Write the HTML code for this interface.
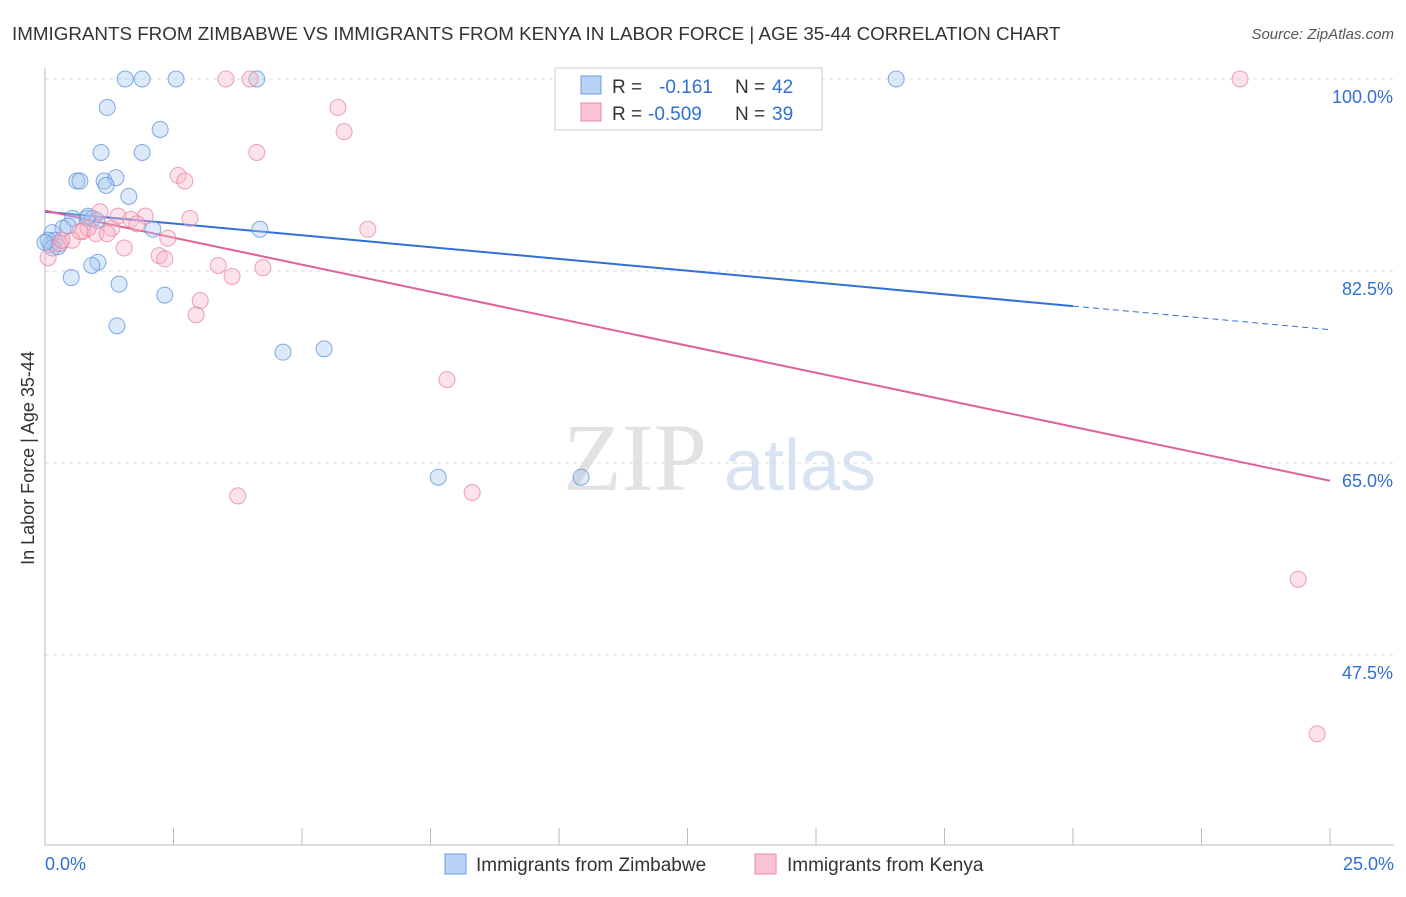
<!DOCTYPE html>
<html><head><meta charset="utf-8"><style>
body{margin:0;background:#fff;font-family:"Liberation Sans",sans-serif;}
</style></head><body>
<svg id="c" width="1406" height="892" xmlns="http://www.w3.org/2000/svg">
<text x="12" y="40" font-size="18.8" fill="#333">IMMIGRANTS FROM ZIMBABWE VS IMMIGRANTS FROM KENYA IN LABOR FORCE | AGE 35-44 CORRELATION CHART</text>
<text x="1394" y="39" font-size="15" fill="#555" font-style="italic" text-anchor="end">Source: ZipAtlas.com</text>
<text x="34" y="458" font-size="18" fill="#333" text-anchor="middle" transform="rotate(-90 34 458)">In Labor Force | Age 35-44</text>
<g><text x="635" y="490" font-size="96" fill="#ccc" font-family="Liberation Serif,serif" text-anchor="middle" opacity="0.55">ZIP</text><text x="800" y="490" font-size="72" fill="#b8cdea" text-anchor="middle" opacity="0.55">atlas</text></g>
<g id="grid"></g><g id="axes"></g><g id="trend"></g><g id="pts"></g>
<g>
<rect x="555" y="68" width="267" height="62" fill="#fff" stroke="#ccc"/>
<rect x="581" y="76" width="20" height="18" fill="#b8d3f5" stroke="#6a9be0"/>
<rect x="581" y="103" width="20" height="18" fill="#f9c3d3" stroke="#e88aa8"/>
<text y="93" font-size="19" fill="#333"><tspan x="612">R =</tspan><tspan x="659" fill="#2f6fd6">-0.161</tspan><tspan x="735">N =</tspan><tspan x="772" fill="#2f6fd6">42</tspan></text>
<text y="120" font-size="19" fill="#333"><tspan x="612">R =</tspan><tspan x="648" fill="#2f6fd6">-0.509</tspan><tspan x="735">N =</tspan><tspan x="772" fill="#2f6fd6">39</tspan></text>
</g>
<g>
<rect x="445" y="854" width="21" height="20" fill="#b8d3f5" stroke="#6a9be0"/>
<text x="476" y="871" font-size="19" fill="#333">Immigrants from Zimbabwe</text>
<rect x="755" y="854" width="21" height="20" fill="#f9c3d3" stroke="#e88aa8"/>
<text x="787" y="871" font-size="19" fill="#333">Immigrants from Kenya</text>
</g>
</svg>
<script>
const xTicks=[0,25];
const yTicks=[100,82.5,65,47.5];
const blueX=[1.56,1.89,2.55,4.12,16.56,1.21,2.24,1.09,1.89,0.62,0.68,1.15,1.38,1.19,1.63,0.54,0.82,0.93,1.01,0.35,0.45,2.10,4.18,0.14,0.19,0.29,0.10,0.25,1.03,0.91,0.51,1.44,2.33,1.40,4.63,5.43,7.65,10.43,0.06,0.14,0.0,0.84];
const blueY=[100,100,100,100,100,97.4,95.4,93.3,93.3,90.7,90.7,90.7,91.0,90.3,89.3,87.3,87.3,87.3,87.1,86.4,86.6,86.3,86.3,86.0,85.3,85.0,84.9,84.7,83.3,83.0,81.9,81.3,80.3,77.5,75.1,75.4,63.7,63.7,85.3,84.6,85.1,87.5];
const pinkX=[3.52,3.99,23.25,5.70,5.82,4.12,2.59,2.72,1.07,1.42,1.95,2.82,1.67,1.30,1.79,6.28,0.74,0.99,1.21,2.39,0.53,0.29,1.54,2.22,2.33,3.37,4.24,3.64,3.02,2.94,7.82,3.75,8.31,24.38,24.75,0.06,0.33,0.84,0.68];
const pinkY=[100,100,100,97.4,95.2,93.3,91.2,90.7,87.9,87.5,87.5,87.3,87.2,86.4,86.8,86.3,86.1,85.9,85.9,85.5,85.3,85.0,84.6,83.9,83.6,83.0,82.8,82.0,79.8,78.5,72.6,62.0,62.3,54.4,40.3,83.7,85.3,86.4,86.1];
const blueTrend=[87.9,-0.43];
const pinkTrend=[88.0,-0.985];
const X=v=>45+v*51.4, Y=v=>79+(100-v)*10.97;
const NS="http://www.w3.org/2000/svg";
function mk(p,t,a){const e=document.createElementNS(NS,t);for(const k in a)e.setAttribute(k,a[k]);document.getElementById(p).appendChild(e);return e;}
yTicks.forEach(t=>{
 const l=mk('grid','line',{x1:45,x2:1394,y1:Y(t),y2:Y(t),stroke:'#ddd','stroke-dasharray':'4,4'});
 
 
 const tx=mk('grid','text',{x:1393,y:Y(t)+24,'font-size':18,fill:'#2f6fd6','text-anchor':'end'});tx.textContent=t.toFixed(1)+'%';
 
 
});
const ax=mk('axes','path',{d:'M45,68V845H1394',fill:'none',stroke:'#bbb'});


for(let i=0;i<=10;i++){const x=45+i*128.5;const tk=mk('axes','line',{x1:x,x2:x,y1:828,y2:845,stroke:'#bbb'});
 
 }
xTicks.forEach((t,i)=>{const tx=mk('axes','text',{x:i?1394:45,y:870,'font-size':18,fill:'#2f6fd6','text-anchor':i?'end':'start'});tx.textContent=t.toFixed(1)+'%';
 
 });
function pts(xs,ys,f,s,n){xs.forEach((x,i)=>{const c=mk('pts','circle',{cx:X(x),cy:Y(ys[i]),r:8,fill:f,'fill-opacity':0.4,stroke:s,'stroke-opacity':0.75});
 
 });}
pts(blueX,blueY,'#a8c8f0','#5a90dc','zimbabwe-point');
pts(pinkX,pinkY,'#f7b8cb','#e8829f','kenya-point');
const bl=mk('trend','line',{x1:X(0),y1:Y(blueTrend[0]),x2:X(20),y2:Y(blueTrend[0]+blueTrend[1]*20),stroke:'#2f6fd6','stroke-width':2});


const bd=mk('trend','line',{x1:X(20),y1:Y(blueTrend[0]+blueTrend[1]*20),x2:X(25),y2:Y(blueTrend[0]+blueTrend[1]*25),stroke:'#2f6fd6','stroke-width':1,'stroke-dasharray':'6,4'});


const pl=mk('trend','line',{x1:X(0),y1:Y(pinkTrend[0]),x2:X(25),y2:Y(pinkTrend[0]+pinkTrend[1]*25),stroke:'#e0609a','stroke-width':2});


</script>
</body></html>
